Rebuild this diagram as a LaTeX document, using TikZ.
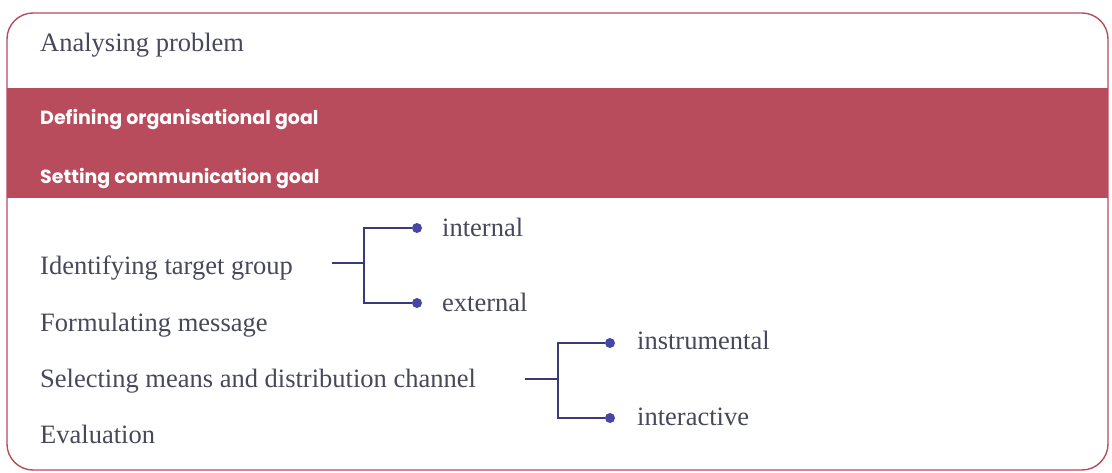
\documentclass[tikz,border=0pt]{standalone}
\usepackage{fontspec}
\setmainfont{Liberation Serif}
\newfontfamily\bandfont{Poppins}
\usetikzlibrary{positioning}
\definecolor{rosered}{RGB}{184,76,92}
\definecolor{txtgrey}{RGB}{72,72,92}
\definecolor{linkblue}{RGB}{58,58,120}
\definecolor{dotblue}{RGB}{70,70,165}

\begin{document}
\begin{tikzpicture}[x=1pt,y=-1pt]
\tikzstyle{item}= [anchor=base west, inner sep=0pt, text=txtgrey, font=\fontsize{26.5}{27}\selectfont]
\tikzstyle{band}= [anchor=base west, inner sep=0pt, text=white, font=\bandfont\bfseries\fontsize{19}{19}\selectfont]
\tikzstyle{dot}= [circle, inner sep=0pt, fill=dotblue, minimum size=10pt]
\tikzstyle{link}= [draw=linkblue, line width=1.8pt]
\useasboundingbox (0,0) rectangle (1112,473);
%frame
\fill[rosered] (7,88) rectangle (1108,198);
\draw[rosered, line width=1.4pt, rounded corners=26pt] (7,13) rectangle (1108,470);
%steps
\node[item] (ana) at (40,52) {Analysing problem};
\node[band] (org) at (40,125) {Defining organisational goal};
\node[band] (com) at (40,184) {Setting communication goal};
\node[item] (tgt) at (40,275) {Identifying target group};
\node[item] (msg) at (40,331) {Formulating message};
\node[item] (sel) at (40,387) {Selecting means and distribution channel};
\node[item] (evl) at (40,443) {Evaluation};
%1
\coordinate (s1) at (332,263);
\coordinate (j1) at (364,263);
\node[dot] (d1) at (417,228) {};
\node[dot] (d2) at (417,303) {};
\node[item] (int) at (442,237) {internal};
\node[item] (ext) at (442,312) {external};
\draw[link] (s1) -- (j1);
\draw[link] (d1) -| (j1) |- (d2);
%2
\coordinate (s2) at (525,379);
\coordinate (j2) at (558,379);
\node[dot] (d3) at (610,343) {};
\node[dot] (d4) at (610,418) {};
\node[item] (ins) at (637,349) {instrumental};
\node[item] (inr) at (637,425) {interactive};
\draw[link] (s2) -- (j2);
\draw[link] (d3) -| (j2) |- (d4);
\end{tikzpicture}
\end{document}
